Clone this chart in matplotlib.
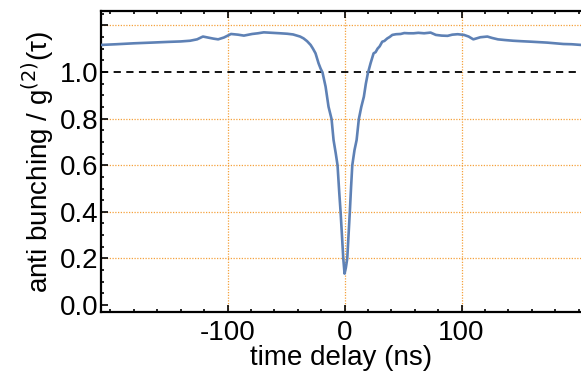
import matplotlib
matplotlib.use('Agg')
import matplotlib.pyplot as plt
from matplotlib.ticker import MultipleLocator

plt.rcParams['font.family'] = ['Liberation Sans', 'DejaVu Sans']
plt.rcParams['axes.unicode_minus'] = False

delay = [-208, -195, -180, -165, -151, -140, -132, -126, -121, -116, -112, -108, -103,
         -97, -91, -86, -79, -74, -69, -62, -55, -49, -44, -38, -35, -32, -29, -27,
         -24.8, -22.2, -20.5, -18.8, -16.2, -13.7, -11.1, -9.4, -7.5, -6, -4.5, -3.4,
         -2, -1.1, 0, 1.1, 2.3, 3.4, 4.5, 5.5, 6.6, 8.5, 10.3, 12.2, 14.3, 16.5, 18.2,
         19.9, 22.2, 24.8, 26.5, 28.2, 30, 32.2, 34, 36.5, 38.5, 40.8, 44, 47.9, 51,
         54.7, 59, 63, 68, 73.5, 78, 83, 88, 92, 96.6, 102, 106, 110, 116, 122, 126,
         131, 137, 144, 151, 159, 166, 173, 180, 187, 194, 202]
g2 = [1.116, 1.119, 1.123, 1.126, 1.129, 1.131, 1.134, 1.140, 1.152, 1.147, 1.143, 1.140, 1.148,
      1.163, 1.160, 1.156, 1.163, 1.166, 1.170, 1.168, 1.166, 1.164, 1.161, 1.152, 1.144, 1.132, 1.116, 1.100,
      1.080, 1.037, 1.015, 0.997, 0.937, 0.851, 0.798, 0.708, 0.650, 0.600, 0.480, 0.400,
      0.280, 0.200, 0.135, 0.160, 0.200, 0.300, 0.400, 0.500, 0.600, 0.665, 0.708, 0.798, 0.850, 0.894, 0.950,
      0.994, 1.037, 1.080, 1.085, 1.100, 1.110, 1.130, 1.133, 1.144, 1.150, 1.159, 1.162, 1.163, 1.167,
      1.166, 1.166, 1.168, 1.166, 1.169, 1.159, 1.156, 1.155, 1.160, 1.162, 1.159, 1.152, 1.140, 1.149, 1.152, 1.146,
      1.140, 1.137, 1.134, 1.132, 1.130, 1.128, 1.126, 1.123, 1.120, 1.119, 1.116]

xgrid = [-100, 0, 100]
ygrid = [0.2, 0.4, 0.6, 0.8, 1.2]
yticks = [0.0, 0.2, 0.4, 0.6, 0.8, 1.0, 1.2]
ylabels = ['0.0', '0.2', '0.4', '0.6', '0.8', '1.0', '']

fig = plt.figure(figsize=(5.81, 3.76), dpi=100)
ax = fig.add_axes([0.174, 0.170, 0.826, 0.801])

grid_col = '#f5a13c'
for x in xgrid:
    ax.axvline(x, color=grid_col, lw=0.9, ls=(0, (1, 1.2)), zorder=1)
for y in ygrid:
    ax.axhline(y, color=grid_col, lw=0.9, ls=(0, (1, 1.2)), zorder=1)
ax.axhline(1.0, color='black', lw=1.3, ls=(0, (4, 3)), zorder=2)

ax.plot(delay, g2, color='#5e81b5', lw=1.9, zorder=3)

ax.set_xlim(-208, 202)
ax.set_ylim(-0.03, 1.262)
ax.set_xticks([-100, 0, 100])
ax.xaxis.set_minor_locator(MultipleLocator(20))
ax.set_yticks(yticks)
ax.set_yticklabels(ylabels)
ax.yaxis.set_minor_locator(MultipleLocator(0.05))

ax.tick_params(which='both', direction='in', top=True, right=False, labelsize=20, width=1.2)
ax.tick_params(which='major', length=5)
ax.tick_params(which='minor', length=2.5)
ax.tick_params(axis='x', pad=6)
ax.tick_params(axis='y', pad=2)
for s in ['left', 'bottom', 'top']:
    ax.spines[s].set_linewidth(1.6)
ax.spines['right'].set_visible(False)

ax.set_xlabel('time delay (ns)', fontsize=20, labelpad=-1)
ax.set_ylabel('anti bunching / g$^{(2)}$(τ)', fontsize=20, labelpad=3)

fig.savefig('out.png', dpi=100)
